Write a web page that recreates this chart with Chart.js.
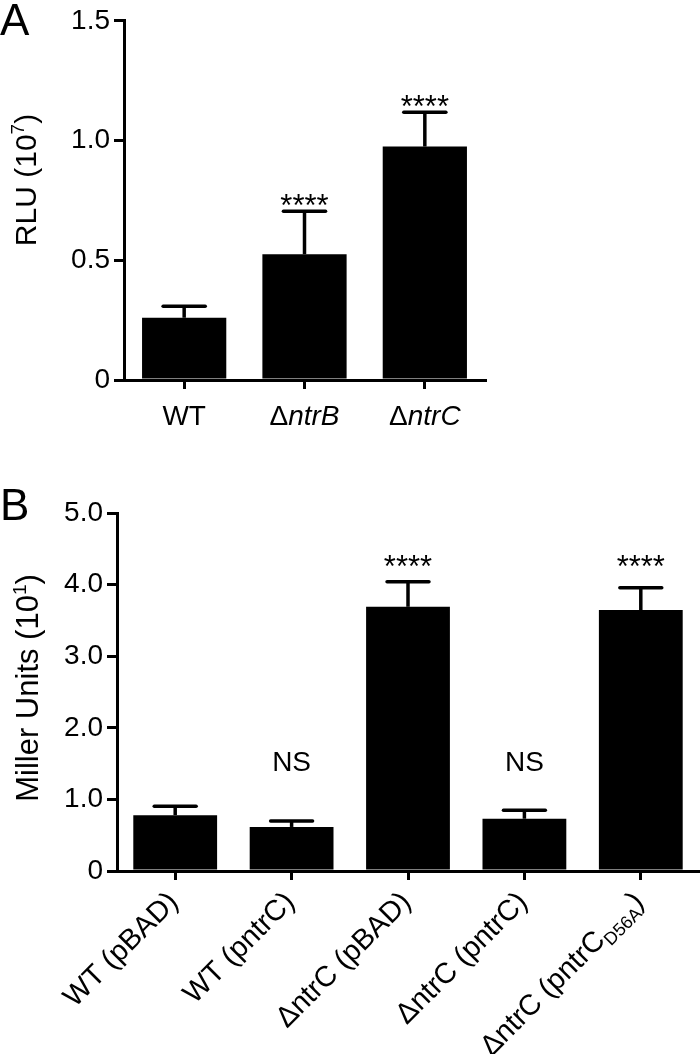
<!DOCTYPE html>
<html>
<head>
<meta charset="utf-8">
<script src="https://cdn.jsdelivr.net/npm/chart.js@4.4.1/dist/chart.umd.min.js"></script>
<style>
  html, body { margin: 0; padding: 0; background: #fff; }
  canvas { display: block; }
</style>
</head>
<body>
<canvas id="chartA" width="700" height="450"></canvas>
<canvas id="chartB" width="700" height="604"></canvas>
<script>
// panel A: luciferase
const labelsA = ["WT", "Δ<i>ntrB</i>", "Δ<i>ntrC</i>"];
const meansA = [0.26, 0.525, 0.975];
const errA = [0.048, 0.18, 0.143];
const sigA = ["", "****", "****"];

// panel B: beta-galactosidase
const labelsB = ["WT (pBAD)", "WT (pntrC)", "ΔntrC (pBAD)", "ΔntrC (pntrC)", "ΔntrC (pntrC_{D56A})"];
const meansB = [0.78, 0.615, 3.69, 0.73, 3.645];
const errB = [0.125, 0.085, 0.35, 0.12, 0.31];
const sigB = ["", "NS", "****", "NS", "****"];

const FONT = "'Liberation Sans', Arial, Helvetica, sans-serif";

// tiny markup: <i>..</i> italic, _{..} subscript, ^{..} superscript
function parseRich(str) {
  const parts = [];
  const re = /<i>(.*?)<\/i>|_\{(.*?)\}|\^\{(.*?)\}/g;
  let last = 0, m;
  while ((m = re.exec(str))) {
    if (m.index > last) parts.push({ text: str.slice(last, m.index) });
    if (m[1] !== undefined) parts.push({ text: m[1], italic: true });
    else if (m[2] !== undefined) parts.push({ text: m[2], shift: "sub" });
    else parts.push({ text: m[3], shift: "sup" });
    last = re.lastIndex;
  }
  if (last < str.length) parts.push({ text: str.slice(last) });
  return parts;
}

// (x, y) is the visual middle of the capitals at the anchor side
function drawRich(ctx, str, x, y, size, align, angle) {
  const parts = parseRich(str);
  const fontOf = p => (p.italic ? "italic " : "") + Math.round(p.shift ? size * 0.62 : size) + "px " + FONT;
  let total = 0;
  parts.forEach(p => { ctx.font = fontOf(p); p.w = ctx.measureText(p.text).width; total += p.w; });
  ctx.save();
  ctx.translate(x, y);
  ctx.rotate(angle || 0);
  ctx.fillStyle = "#000";
  ctx.textAlign = "left";
  ctx.textBaseline = "alphabetic";
  let cx = align === "right" ? -total : align === "center" ? -total / 2 : 0;
  const base = size * 0.36;
  parts.forEach(p => {
    ctx.font = fontOf(p);
    const dy = p.shift === "sub" ? size * 0.22 : p.shift === "sup" ? -size * 0.4 : 0;
    ctx.fillText(p.text, cx, base + dy);
    cx += p.w;
  });
  ctx.restore();
}

const panelPlugin = {
  id: "panel",
  afterDatasetsDraw(chart, args, o) {
    const ctx = chart.ctx;
    const meta = chart.getDatasetMeta(0);
    const y = chart.scales.y;
    const caps = [];
    ctx.save();
    ctx.strokeStyle = "#000";
    ctx.lineWidth = o.errWidth;
    o.means.forEach((m, i) => {
      const bar = meta.data[i];
      const top = y.getPixelForValue(m + o.errs[i]);
      const half = bar.width * 0.25;
      caps.push(top);
      ctx.lineCap = "butt";
      ctx.beginPath();
      ctx.moveTo(bar.x, y.getPixelForValue(m));
      ctx.lineTo(bar.x, top);
      ctx.stroke();
      ctx.lineCap = "round";
      ctx.beginPath();
      ctx.moveTo(bar.x - half, top);
      ctx.lineTo(bar.x + half, top);
      ctx.stroke();
    });
    // significance marks
    const starred = caps.filter((c, i) => o.sig[i] === "****");
    const shared = Math.min(...starred);
    ctx.fillStyle = "#000";
    ctx.textAlign = "center";
    o.sig.forEach((s, i) => {
      if (!s) return;
      const x = meta.data[i].x;
      if (s === "NS") {
        ctx.font = "28px " + FONT;
        ctx.textBaseline = "middle";
        ctx.fillText(s, x, y.getPixelForValue(o.nsLevel));
      } else {
        ctx.font = "31px " + FONT;
        ctx.textBaseline = "alphabetic";
        ctx.fillText(s, x, (o.sharedStars ? shared - 5 : caps[i] + 5));
      }
    });
    ctx.restore();
  },
  afterDraw(chart, args, o) {
    const ctx = chart.ctx;
    const xs = chart.scales.x;
    const bottom = chart.chartArea.bottom;
    chart.data.labels.forEach((lab, i) => {
      const cx = xs.getPixelForTick(i);
      if (o.rotate) drawRich(ctx, lab, cx - 3, bottom + 25, 29, "right", -Math.PI / 4);
      else drawRich(ctx, lab, cx, bottom + 35, 28, "center", 0);
    });
    drawRich(ctx, o.title, o.titleX, o.titleY, o.titleSize, "center", -Math.PI / 2);
    ctx.save();
    ctx.fillStyle = "#000";
    ctx.font = "44px " + FONT;
    ctx.textAlign = "left";
    ctx.textBaseline = "top";
    ctx.fillText(o.letter, 0, o.letterY);
    ctx.restore();
  }
};

function axisOpts(max, step, width) {
  return {
    x: {
      grid: { drawOnChartArea: false, offset: false, tickLength: 9, lineWidth: 3, color: "#000" },
      border: { color: "#000", width: 3 },
      ticks: { display: false }
    },
    y: {
      min: 0, max: max,
      ticks: {
        stepSize: step, color: "#000", padding: 4,
        font: { family: FONT, size: 28 },
        callback: v => (v === 0 ? "0" : v.toFixed(1))
      },
      grid: { drawOnChartArea: false, tickLength: 10, lineWidth: 3, color: "#000" },
      border: { color: "#000", width: 3 },
      afterFit: s => { s.width = width; }
    }
  };
}

const scalesA = axisOpts(1.5, 0.5, 124);
scalesA.x.afterFit = s => { s.height = 70; };
new Chart(document.getElementById("chartA"), {
  type: "bar",
  data: {
    labels: labelsA,
    datasets: [{ data: meansA, backgroundColor: "#000", barPercentage: 0.7, categoryPercentage: 1 }]
  },
  options: {
    responsive: false,
    animation: false,
    layout: { padding: { top: 19, right: 215, left: 0, bottom: 0 } },
    plugins: {
      legend: { display: false },
      tooltip: { enabled: false },
      panel: { means: meansA, errs: errA, sig: sigA, errWidth: 3.5, sharedStars: false,
               rotate: false, title: "RLU (10^{7})", titleSize: 30, titleX: 25, titleY: 180,
               letter: "A", letterY: 1 }
    },
    scales: scalesA
  },
  plugins: [panelPlugin]
});

const scalesB = axisOpts(5, 1, 117);
scalesB.x.afterFit = s => { s.height = 183; };
new Chart(document.getElementById("chartB"), {
  type: "bar",
  data: {
    labels: labelsB,
    datasets: [{ data: meansB, backgroundColor: "#000", barPercentage: 0.72, categoryPercentage: 1 }]
  },
  options: {
    responsive: false,
    animation: false,
    layout: { padding: { top: 63, right: 1, left: 0, bottom: 0 } },
    plugins: {
      legend: { display: false },
      tooltip: { enabled: false },
      panel: { means: meansB, errs: errB, sig: sigB, errWidth: 3.5, sharedStars: true, nsLevel: 1.5,
               rotate: true, title: "Miller Units (10^{1})", titleSize: 31, titleX: 27, titleY: 238,
               letter: "B", letterY: 36 }
    },
    scales: scalesB
  },
  plugins: [panelPlugin]
});
</script>
</body>
</html>
